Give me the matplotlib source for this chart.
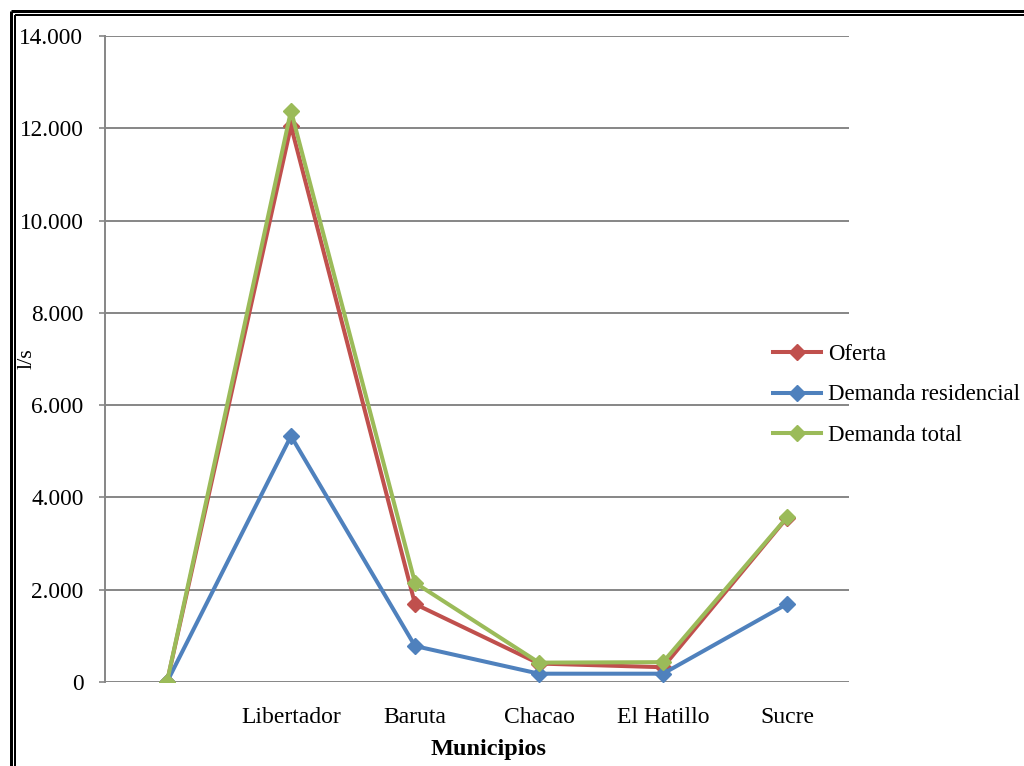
import matplotlib.pyplot as plt
from matplotlib.lines import Line2D
from matplotlib.ticker import FuncFormatter

plt.rcParams['font.family'] = ['Liberation Serif', 'DejaVu Serif']

municipios = ['', 'Libertador', 'Baruta', 'Chacao', 'El Hatillo', 'Sucre']
oferta = [0, 12050, 1690, 400, 320, 3560]
demanda_residencial = [0, 5330, 780, 180, 180, 1690]
demanda_total = [0, 12380, 2150, 420, 430, 3570]

series = [
    ('Oferta', oferta, '#C0504D'),
    ('Demanda residencial', demanda_residencial, '#4F81BD'),
    ('Demanda total', demanda_total, '#9BBB59'),
]

W, H = 1024, 766
fig = plt.figure(figsize=(W / 100, H / 100), dpi=100)

# double frame along top and left edge (offsets and widths in pixels)
for off, lw in [(10.5, 3.0), (14.7, 2.0)]:
    fig.add_artist(Line2D([off / W, 1], [1 - off / H, 1 - off / H],
                          transform=fig.transFigure, color='black',
                          lw=lw * 0.72, solid_capstyle='butt'))
    fig.add_artist(Line2D([off / W, off / W], [0, 1 - off / H],
                          transform=fig.transFigure, color='black',
                          lw=lw * 0.72, solid_capstyle='butt'))

ax = fig.add_axes([105 / W, (H - 682) / H, 744 / W, 646 / H])
x = range(len(municipios))
for name, vals, col in series:
    ax.plot(x, vals, color=col, lw=2.9, marker='D', markersize=8,
            label=name)

ax.set_xlim(-0.5, len(municipios) - 0.5)
ax.set_ylim(0, 14000)
ax.set_yticks(range(0, 14001, 2000))
ax.yaxis.set_major_formatter(FuncFormatter(lambda v, p: f'{int(v):,}'.replace(',', '.')))
ax.set_xticks(list(x))
ax.set_xticklabels(municipios)

ax.grid(axis='y', color='#868686', lw=1.4)
ax.set_axisbelow(True)
for s in ['top', 'right', 'bottom']:
    ax.spines[s].set_visible(False)
ax.spines['left'].set_color('#868686')
ax.spines['left'].set_linewidth(1.4)
ax.tick_params(axis='y', length=4.5, width=1.2, color='#868686', pad=11,
               labelsize=16.8)
ax.tick_params(axis='x', length=0, pad=18, labelsize=17)

ax.set_ylabel('l/s', fontsize=16)
ax.yaxis.set_label_coords(-68 / 744, 0.50)
fig.text(489 / W, (H - 750) / H, 'Municipios', ha='center', va='center',
         fontsize=17.5, fontweight='bold')

fig.legend(loc='center left', bbox_to_anchor=(773 / W, (H - 395) / H),
           frameon=False, fontsize=16.4, borderpad=0, borderaxespad=0,
           handlelength=2.1, handletextpad=0.3, labelspacing=0.85)

fig.savefig('out.png', dpi=100)
